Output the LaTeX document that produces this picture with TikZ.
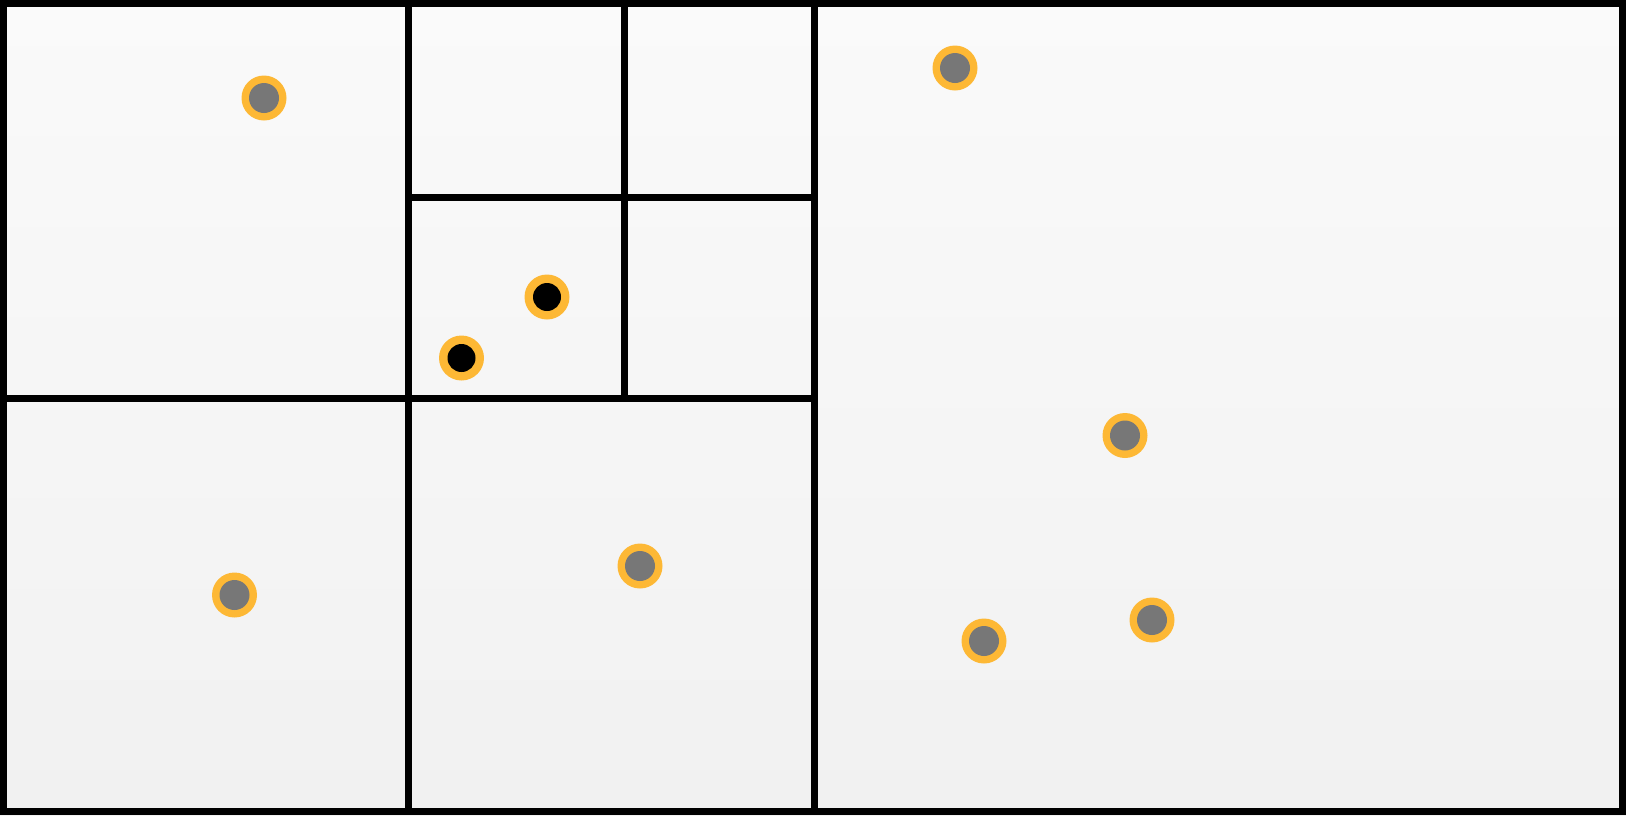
\documentclass[tikz,border=0pt]{standalone}
\begin{document}
\begin{tikzpicture}[x=1pt,y=-1pt,
  wall/.style={line width=7pt,black},
  pt/.style={circle,fill=ptring,inner sep=0pt,minimum size=45pt,
    path picture={\fill[ptcore] (path picture bounding box.center) circle (15pt);}},
  bpt/.style={circle,fill=ptring,inner sep=0pt,minimum size=45pt,
    path picture={\fill[black] (path picture bounding box.center) circle (14pt);}}]
\definecolor{ptring}{HTML}{FDB835}
\definecolor{ptcore}{HTML}{777777}
\useasboundingbox (0,0) rectangle (1626,815);
\shade[top color={rgb,255:red,250;green,250;blue,250},bottom color={rgb,255:red,241;green,241;blue,241}] (0,0) rectangle (1626,815);
% partitions
\draw[wall] (408,0) -- (408,815);
\draw[wall] (814,0) -- (814,815);
\draw[wall] (0,398) -- (814,398);
\draw[wall] (408,197) -- (814,197);
\draw[wall] (624,0) -- (624,398);
\draw[wall] (3.5,3.5) rectangle (1622.5,811.5);
% points
\node[pt] (p1) at (264,98) {};
\node[bpt] (p2) at (547,297) {};
\node[bpt] (p3) at (461.5,358) {};
\node[pt] (p4) at (234.5,595) {};
\node[pt] (p5) at (640,566) {};
\node[pt] (p6) at (955,68) {};
\node[pt] (p7) at (1125,435.5) {};
\node[pt] (p8) at (984,641) {};
\node[pt] (p9) at (1152,620) {};
\end{tikzpicture}
\end{document}
